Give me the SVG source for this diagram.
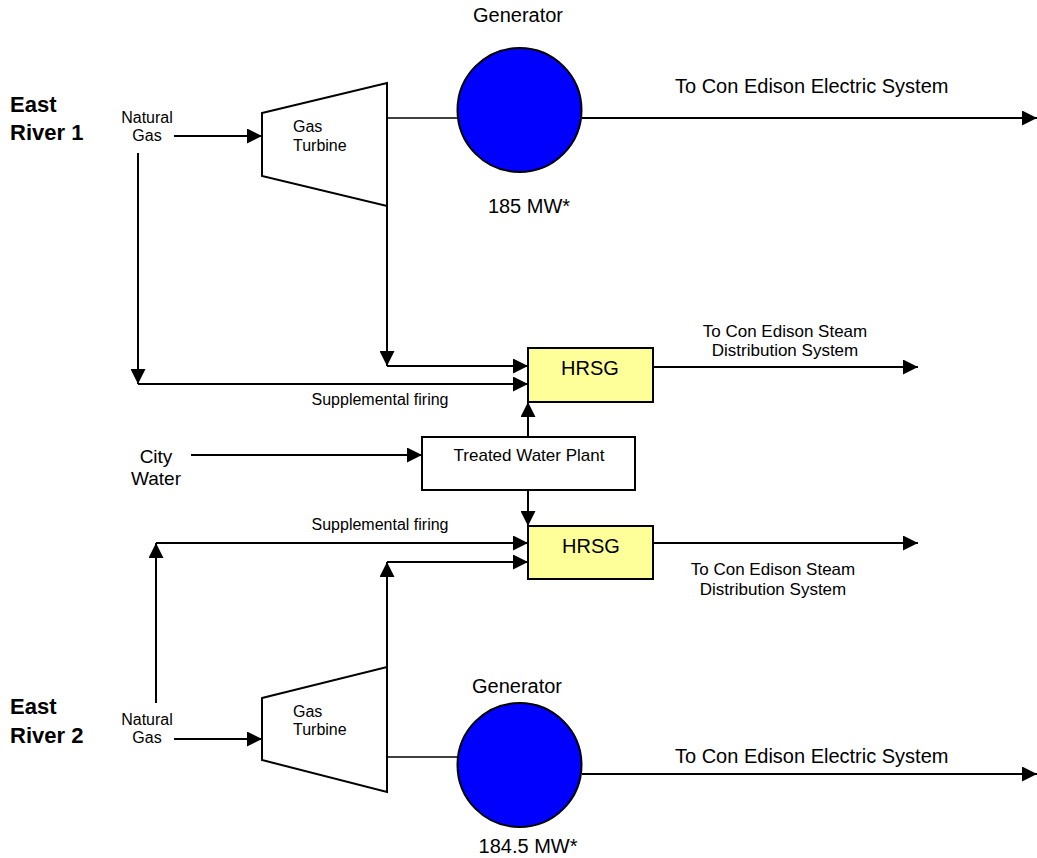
<svg xmlns="http://www.w3.org/2000/svg" width="1037" height="858" viewBox="0 0 1037 858">
<style>
text{font-family:"Liberation Sans",Arial,sans-serif;fill:#000}
.ttl{font-size:22px;font-weight:bold}
.s16{font-size:16px}
.s17{font-size:17px}
.s19{font-size:19px}
.s20{font-size:20px}
.ln{fill:none;stroke:#000;stroke-width:2}
.thin{fill:none;stroke:#000;stroke-width:1.5}
.arr{marker-end:url(#ah)}
.hrsg{fill:#FFFF99;stroke:#000;stroke-width:2}
.box{fill:#fff;stroke:#000;stroke-width:2}
.gen{fill:#0000FF;stroke:#000;stroke-width:2}
.tur{fill:#fff;stroke:#000;stroke-width:2}
</style>
<defs>
<marker id="ah" markerUnits="userSpaceOnUse" markerWidth="15" markerHeight="15" refX="14" refY="7" orient="auto" viewBox="0 0 14 14">
<path d="M0,0 L14,7 L0,14 z" fill="#000"/>
</marker>
</defs>
<rect width="1037" height="858" fill="#fff"/>

<g id="labels">
<text class="ttl" x="10" y="112">East</text>
<text class="ttl" x="10" y="140">River 1</text>
<text class="ttl" x="10" y="714">East</text>
<text class="ttl" x="10" y="743">River 2</text>
</g>

<g id="connectors">
<!-- ER1 -->
<line class="ln arr" x1="174" y1="136" x2="262" y2="136"/>
<line class="ln arr" x1="138" y1="153" x2="138" y2="384"/>
<line class="ln arr" x1="138" y1="384" x2="528" y2="384"/>
<line class="ln arr" x1="387" y1="206" x2="387" y2="366"/>
<line class="ln arr" x1="387" y1="366" x2="528" y2="366"/>
<line class="thin" x1="387" y1="118" x2="457" y2="118"/>
<line class="ln arr" x1="582" y1="118" x2="1037" y2="118"/>
<line class="ln arr" x1="653" y1="367" x2="918" y2="367"/>
<!-- water -->
<line class="ln arr" x1="191" y1="455" x2="422" y2="455"/>
<line class="ln arr" x1="528" y1="437" x2="528" y2="402"/>
<line class="ln arr" x1="528" y1="490" x2="528" y2="526"/>
<!-- ER2 -->
<line class="ln arr" x1="174" y1="739" x2="262" y2="739"/>
<line class="ln arr" x1="156" y1="703" x2="156" y2="543"/>
<line class="ln arr" x1="156" y1="543" x2="528" y2="543"/>
<line class="ln arr" x1="387" y1="667" x2="387" y2="562"/>
<line class="ln arr" x1="387" y1="562" x2="528" y2="562"/>
<line class="thin" x1="387" y1="757" x2="457" y2="757"/>
<line class="ln arr" x1="582" y1="774" x2="1037" y2="774"/>
<line class="ln arr" x1="653" y1="543" x2="918" y2="543"/>
</g>

<g id="ng1">
<text class="s16" x="147" y="123" text-anchor="middle">Natural</text>
<text class="s16" x="147" y="141" text-anchor="middle">Gas</text>
</g>
<g id="turbine1">
<polygon class="tur" points="262,113 387,83 387,206 262,176"/>
<text class="s16" x="293" y="132">Gas</text>
<text class="s16" x="293" y="151">Turbine</text>
</g>
<g id="generator1">
<text class="s20" x="518" y="22" text-anchor="middle">Generator</text>
<circle class="gen" cx="519.5" cy="110" r="62"/>
<text class="s20" x="529" y="213" text-anchor="middle">185 MW*</text>
</g>
<g id="elec1">
<text class="s20" x="675" y="93">To Con Edison Electric System</text>
</g>
<g id="hrsg1">
<rect class="hrsg" x="528" y="348" width="125" height="54"/>
<text class="s20" x="590" y="375" text-anchor="middle">HRSG</text>
</g>
<g id="steam1">
<text class="s17" x="785" y="337" text-anchor="middle">To Con Edison Steam</text>
<text class="s17" x="785" y="356" text-anchor="middle">Distribution System</text>
</g>
<g id="supp1">
<text class="s16" x="380" y="405" text-anchor="middle">Supplemental firing</text>
</g>
<g id="citywater">
<text class="s19" x="156" y="463" text-anchor="middle">City</text>
<text class="s19" x="156" y="485" text-anchor="middle">Water</text>
</g>
<g id="twp">
<rect class="box" x="422" y="437" width="213" height="53"/>
<text class="s17" x="529" y="461" text-anchor="middle">Treated Water Plant</text>
</g>
<g id="supp2">
<text class="s16" x="380" y="530" text-anchor="middle">Supplemental firing</text>
</g>
<g id="hrsg2">
<rect class="hrsg" x="528" y="526" width="125" height="53"/>
<text class="s20" x="591" y="553" text-anchor="middle">HRSG</text>
</g>
<g id="steam2">
<text class="s17" x="773" y="575" text-anchor="middle">To Con Edison Steam</text>
<text class="s17" x="773" y="595" text-anchor="middle">Distribution System</text>
</g>
<g id="ng2">
<text class="s16" x="147" y="725" text-anchor="middle">Natural</text>
<text class="s16" x="147" y="743" text-anchor="middle">Gas</text>
</g>
<g id="turbine2">
<polygon class="tur" points="262,698 387,667 387,792 262,760"/>
<text class="s16" x="293" y="717">Gas</text>
<text class="s16" x="293" y="735">Turbine</text>
</g>
<g id="generator2">
<text class="s20" x="517" y="693" text-anchor="middle">Generator</text>
<circle class="gen" cx="519.5" cy="765" r="62"/>
<text class="s20" x="528" y="853" text-anchor="middle">184.5 MW*</text>
</g>
<g id="elec2">
<text class="s20" x="675" y="763">To Con Edison Electric System</text>
</g>
</svg>
